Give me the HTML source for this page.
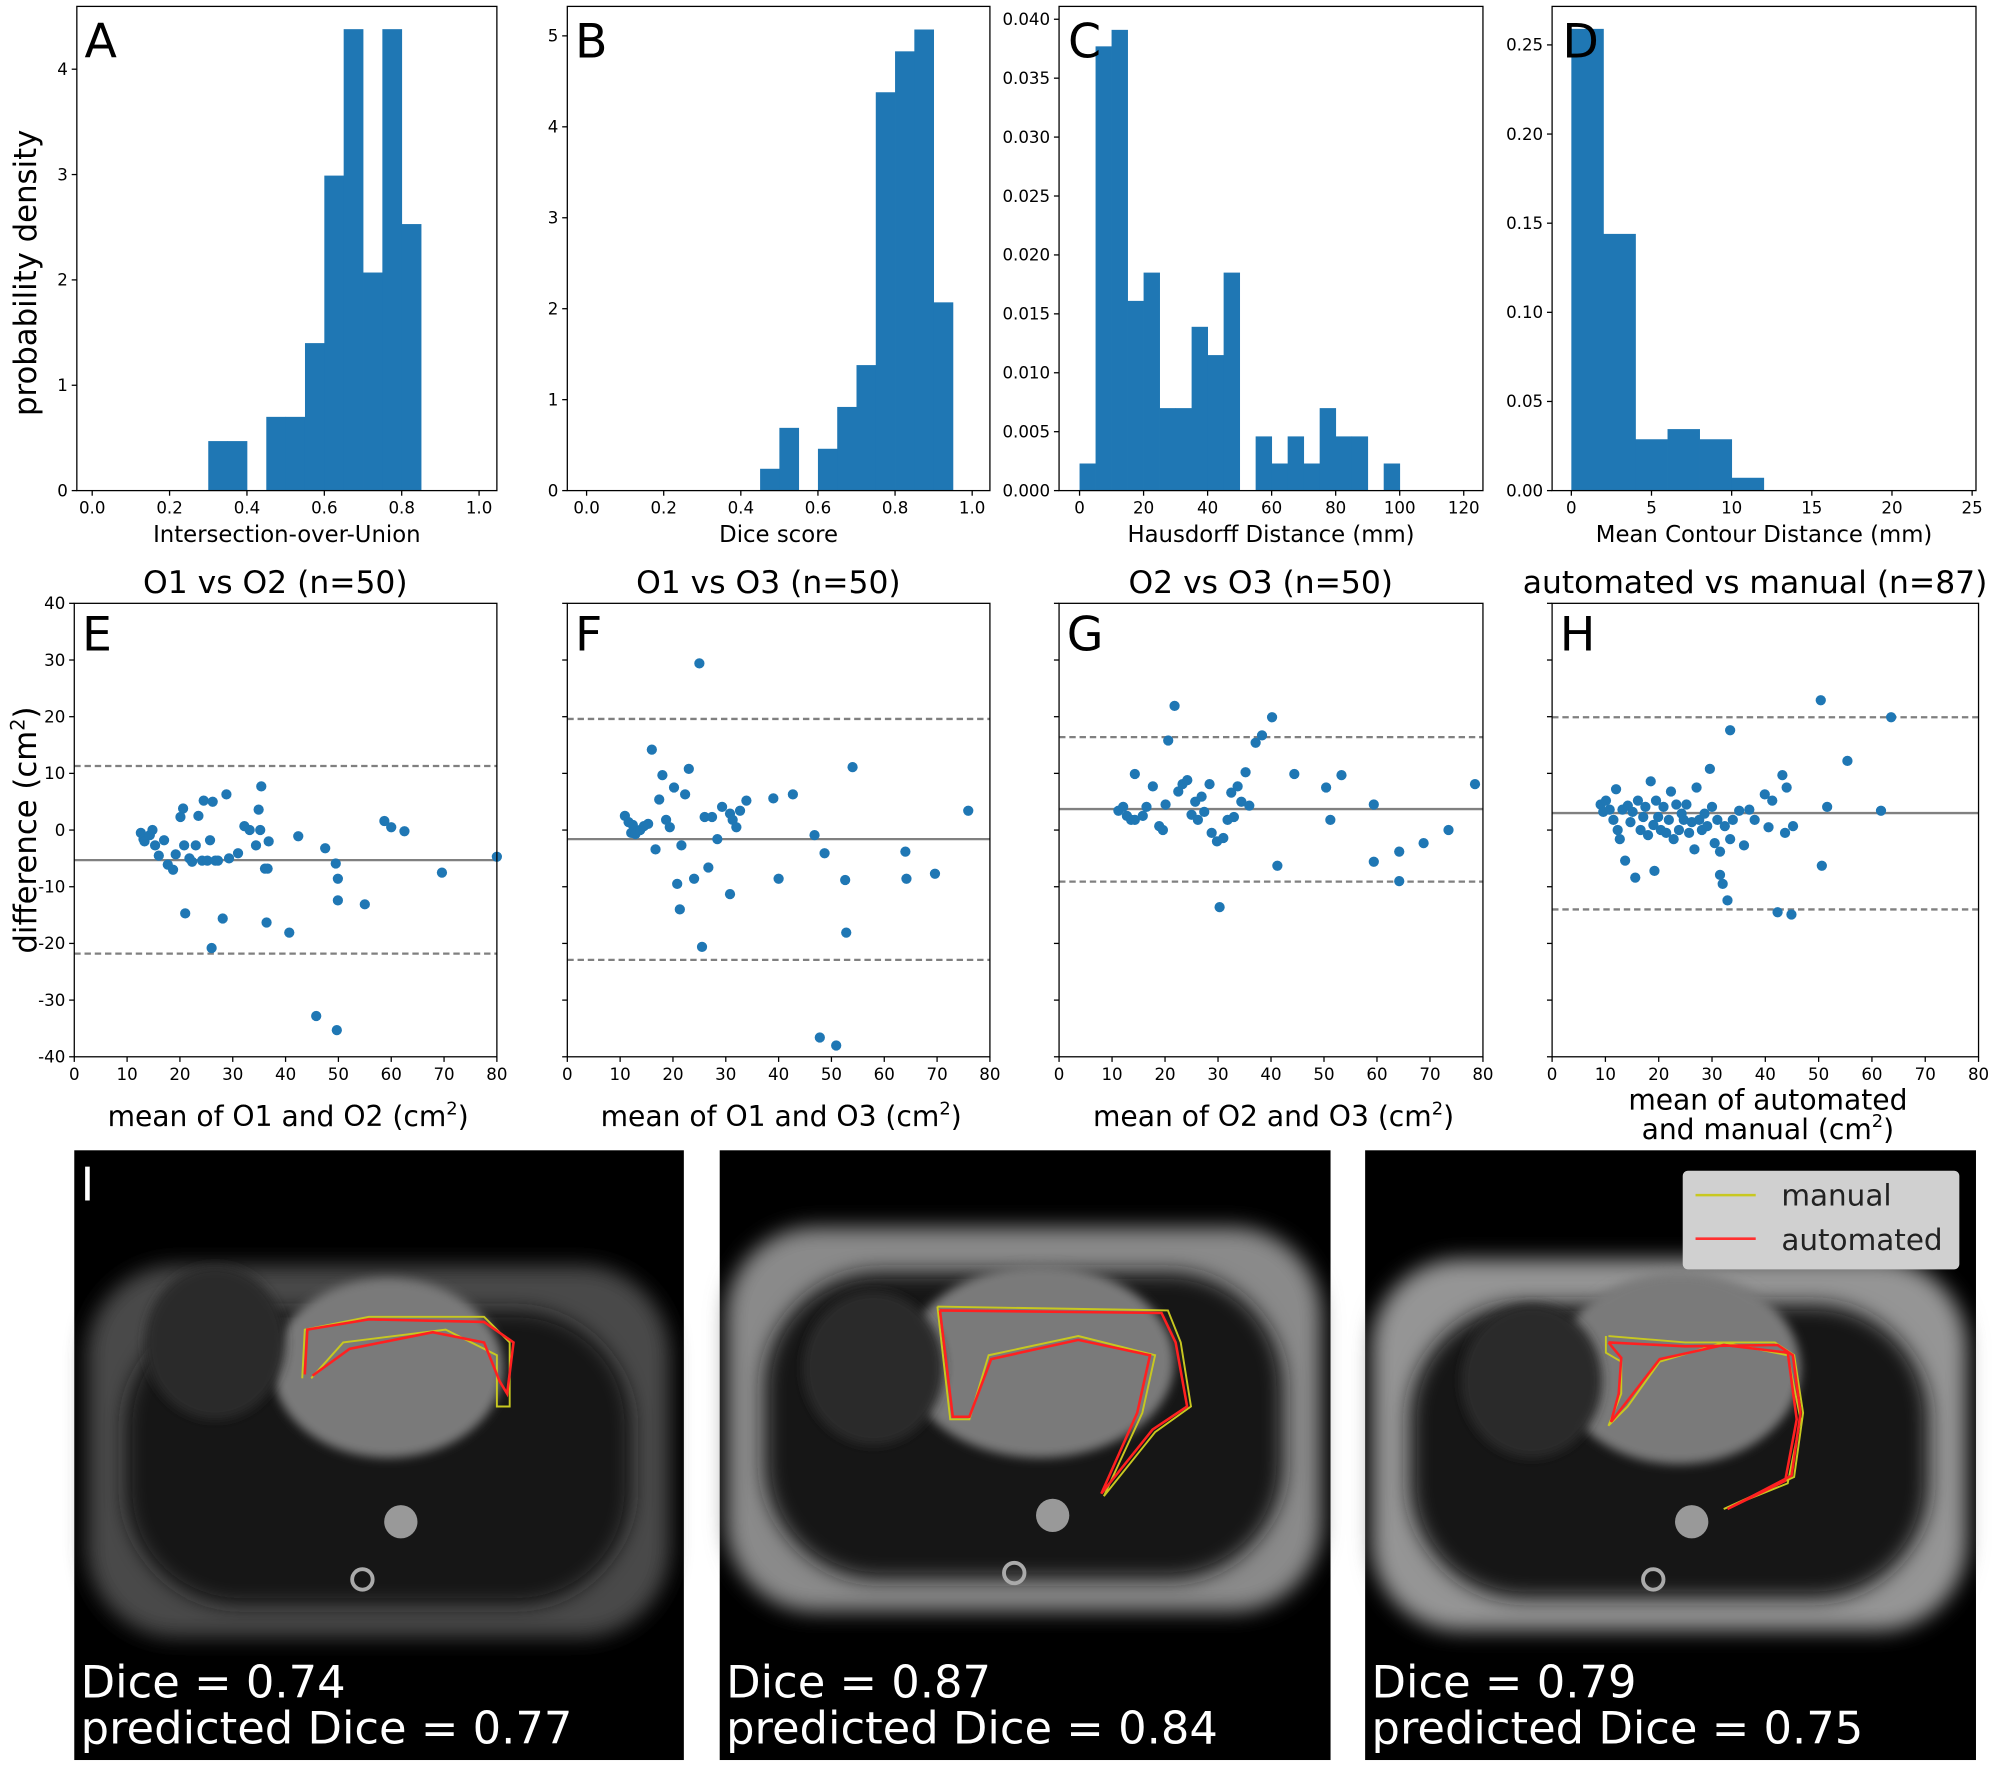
<!DOCTYPE html>
<html><head><meta charset="utf-8">
<style>
html,body{margin:0;padding:0;background:#fff;}
svg{display:block;}
text{font-family:"DejaVu Sans","Liberation Sans",sans-serif;}
</style></head>
<body>
<svg id="fig" xmlns="http://www.w3.org/2000/svg" width="2008" height="1769" viewBox="0 0 1568 1381" preserveAspectRatio="none">
<defs>
<filter id="blur4"><feGaussianBlur stdDeviation="4"/></filter>
<filter id="blur8"><feGaussianBlur stdDeviation="8"/></filter>
</defs>
<g id="charts"></g>
<g id="images"></g>
</svg>
<script>
// ---------- Histogram data ----------
const iouEdges = [0.30,0.35,0.40,0.45,0.50,0.55,0.60,0.65,0.70,0.75,0.80,0.85];
const iouDensity = [0.47,0.47,0,0.70,0.70,1.40,2.99,4.38,2.07,4.38,2.53];
const diceEdges = [0.45,0.50,0.55,0.60,0.65,0.70,0.75,0.80,0.85,0.90,0.95];
const diceDensity = [0.24,0.69,0,0.46,0.92,1.38,4.38,4.83,5.07,2.07];
const hdEdges = [0,5,10,15,20,25,30,35,40,45,50,55,60,65,70,75,80,85,90,95,100];
const hdDensity = [0.0023,0.0377,0.0391,0.0161,0.0185,0.0070,0.0070,0.0139,0.0115,0.0185,0,0.0046,0.0023,0.0046,0.0023,0.0070,0.0046,0.0046,0,0.0023];
const mcdEdges = [0,2,4,6,8,10,12];
const mcdDensity = [0.259,0.144,0.0288,0.0345,0.0288,0.0072];

// ---------- Bland-Altman data ----------
const eMeans = [12.6,13.1,13.3,14.3,14.8,15.3,16.0,17.0,17.7,18.7,19.2,20.1,20.6,20.8,21.0,21.8,22.3,23.0,23.5,24.2,24.5,25.2,25.7,26.0,26.2,26.7,27.2,28.1,28.8,29.3,31.0,32.2,33.2,34.4,34.9,35.2,35.4,36.1,36.4,36.6,36.8,40.7,42.4,45.8,47.5,49.5,49.9,49.9,49.7,55.0,58.7,60.0,62.5,69.6,80.0];
const eDiffs = [-0.5,-1.6,-2.0,-0.9,0,-2.7,-4.5,-1.8,-6.1,-7.0,-4.3,2.3,3.8,-2.7,-14.7,-5.0,-5.6,-2.7,2.5,-5.4,5.2,-5.4,-1.8,-20.8,5.0,-5.4,-5.4,-15.6,6.3,-5.0,-4.1,0.7,0,-2.7,3.6,0,7.7,-6.8,-16.3,-6.8,-2.0,-18.1,-1.1,-32.8,-3.2,-5.9,-8.6,-12.4,-35.3,-13.1,1.6,0.5,-0.2,-7.5,-4.7];
const eStats = [-5.3,11.3,-21.8];
const fMeans = [10.9,11.6,12.4,12.1,12.9,13.8,14.5,15.3,16.0,16.7,17.4,18.0,18.7,19.4,20.2,20.8,21.3,21.6,22.3,23.0,24.0,25.0,25.5,26.0,26.7,27.4,28.4,29.3,30.8,31.3,32.0,32.7,33.9,30.8,39.0,40.0,42.7,46.8,47.8,48.7,50.9,52.6,52.8,54.0,64.0,64.2,69.6,75.9];
const fDiffs = [2.5,1.4,0.9,-0.5,-0.7,0,0.7,1.1,14.2,-3.4,5.4,9.7,1.8,0.5,7.5,-9.5,-14.0,-2.7,6.3,10.8,-8.6,29.4,-20.6,2.3,-6.6,2.3,-1.6,4.1,2.9,1.8,0.5,3.4,5.2,-11.3,5.6,-8.6,6.3,-0.9,-36.6,-4.1,-38.0,-8.8,-18.1,11.1,-3.8,-8.6,-7.7,3.4];
const fStats = [-1.6,19.6,-22.9];
const gMeans = [11.2,12.1,12.8,13.6,14.3,14.3,15.8,16.5,17.7,18.9,19.6,20.1,20.6,21.8,22.5,23.3,24.2,25.0,25.7,26.2,26.9,27.4,28.4,28.8,29.8,30.3,31.0,31.8,32.5,33.0,33.7,34.4,35.2,35.9,37.1,38.3,40.2,41.2,44.4,50.4,51.2,53.3,59.4,59.4,64.2,64.2,68.8,73.5,78.5];
const gDiffs = [3.4,4.1,2.5,1.8,9.9,1.8,2.5,4.1,7.7,0.7,0,4.5,15.8,21.9,6.8,8.1,8.8,2.7,5.0,1.8,5.9,3.2,8.1,-0.5,-2.0,-13.6,-1.4,1.8,6.6,2.3,7.7,5.0,10.2,4.3,15.4,16.7,19.9,-6.3,9.9,7.5,1.8,9.7,4.5,-5.6,-3.8,-9.0,-2.3,0,8.1];
const gStats = [3.7,16.4,-9.1];
const hMeans = [9.1,9.6,10.1,10.8,11.5,12.0,12.3,12.7,13.2,13.7,14.2,14.7,15.1,15.6,16.1,16.6,17.1,17.5,18.0,18.5,19.0,19.2,19.5,19.9,20.4,20.9,21.4,21.9,22.3,22.8,23.3,23.8,24.3,24.7,25.2,25.7,26.2,26.7,27.1,27.6,28.1,28.6,29.1,29.6,30.0,30.5,31.0,31.5,31.5,32.0,32.4,32.9,33.4,33.4,33.9,35.1,36.0,37.0,38.0,39.9,40.6,41.3,42.3,43.2,43.7,44.0,44.9,45.2,50.4,50.6,51.6,55.4,61.7,63.6];
const hDiffs = [4.5,3.2,5.2,3.6,1.8,7.2,0,-1.6,3.6,-5.4,4.3,1.4,3.2,-8.4,5.2,0,2.3,4.1,-0.9,8.6,0.9,-7.2,5.2,2.3,0,4.1,-0.5,1.8,6.8,-1.6,4.5,0,2.9,1.8,4.5,-0.5,1.4,-3.4,7.5,1.8,0,2.9,0.7,10.8,4.1,-2.3,1.8,-3.8,-7.9,-9.5,0.7,-12.4,17.6,-1.6,1.8,3.4,-2.7,3.6,1.8,6.3,0.5,5.2,-14.5,9.7,-0.5,7.5,-14.9,0.7,22.9,-6.3,4.1,12.2,3.4,19.9];
const hStats = [3.0,19.9,-14.0];
const baTicksX = [0,10,20,30,40,50,60,70,80];
const baTicksY = [-40,-30,-20,-10,0,10,20,30,40];

const NS = "http://www.w3.org/2000/svg";
const root = document.getElementById('charts');
const BLUE = '#1f77b4';
function mk(tag, attrs, parent, txt){
  const e = document.createElementNS(NS, tag);
  for (const k in attrs) e.setAttribute(k, attrs[k]);
  if (txt !== undefined) e.textContent = txt;
  (parent || root).appendChild(e);
  return e;
}
function scale(d0,d1,r0,r1){ return v => r0 + (v-d0)/(d1-d0)*(r1-r0); }

function axesFrame(g, L,R,T,B){
  const f = mk('rect',{x:L,y:T,width:R-L,height:B-T,fill:'none',stroke:'#000','stroke-width':1},g);
  
  
}
function xTicks(g, sx, B, ticks, fmt){
  ticks.forEach(t=>{
    const x = sx(t);
    const l = mk('line',{x1:x,x2:x,y1:B,y2:B+4,stroke:'#000','stroke-width':1},g);
    
    
    const tx = mk('text',{x:x,y:B+18,'font-size':13,'text-anchor':'middle',fill:'#000'},g,fmt(t));
    
    
  });
}
function yTicks(g, sy, L, ticks, fmt, showLabels){
  ticks.forEach(t=>{
    const y = sy(t);
    const l = mk('line',{x1:L-4,x2:L,y1:y,y2:y,stroke:'#000','stroke-width':1},g);
    
    
    if (showLabels){
      const tx = mk('text',{x:L-7,y:y+4.5,'font-size':13,'text-anchor':'end',fill:'#000'},g,fmt(t));
      
      
    }
  });
}
function letter(g, x, y, s){
  const t = mk('text',{x:x,y:y,'font-size':37,fill:'#000'},g,s);
  
  
}
function rng(a,b,s){ const r=[]; for(let v=a; v<=b+1e-9; v+=s) r.push(+v.toFixed(6)); return r; }

function hist(name, L,R,T,B, xd, yd, edges, dens, xt, xf, yt, yf, xlabel, let, lx){
  const g = mk('g',{});
  
  
  const sx = scale(xd[0],xd[1],L,R), sy = scale(yd[0],yd[1],B,T);
  dens.forEach((d,i)=>{
    if (d<=0) return;
    const x0 = sx(edges[i]), x1 = sx(edges[i+1]);
    const r = mk('rect',{x:x0,y:sy(d),width:x1-x0+0.3,height:sy(0)-sy(d),fill:BLUE},g);
    
    
  });
  axesFrame(g,L,R,T,B);
  xTicks(g,sx,B,xt,xf);
  yTicks(g,sy,L,yt,yf,true);
  const xl = mk('text',{x:(L+R)/2,y:423,'font-size':17.8,'text-anchor':'middle',fill:'#000'},g,xlabel);
  
  
  letter(g, lx, 45, let);
}

hist('histogram-iou',60,388,5,383,[-0.0397,1.046],[0,4.596],iouEdges,iouDensity,rng(0,1,0.2),v=>v.toFixed(1),[0,1,2,3,4],v=>String(v),'Intersection-over-Union','A',66);
hist('histogram-dice',443,773,5,383,[-0.05,1.046],[0,5.324],diceEdges,diceDensity,rng(0,1,0.2),v=>v.toFixed(1),[0,1,2,3,4,5],v=>String(v),'Dice score','B',449);
hist('histogram-hausdorff',827,1158,5,383,[-6.4,126],[0,0.04109],hdEdges,hdDensity,rng(0,120,20),v=>String(v),rng(0,0.04,0.005),v=>v.toFixed(3),'Hausdorff Distance (mm)','C',834);
hist('histogram-mcd',1212,1543,5,383,[-1.2,25.24],[0,0.2716],mcdEdges,mcdDensity,rng(0,25,5),v=>String(v),rng(0,0.25,0.05),v=>v.toFixed(2),'Mean Contour Distance (mm)','D',1220);

const yl = mk('text',{x:0,y:0,'font-size':24,'text-anchor':'middle',fill:'#000',transform:'translate(28,213) rotate(-90)'},root,'probability density');



function ba(name, L,R, means, diffs, stats, title, xlabelParts, let, showY){
  const T=471,B=825;
  const g = mk('g',{});
  
  
  const sx = scale(0,80,L,R), sy = scale(-40,40,B,T);
  const m = mk('line',{x1:L,x2:R,y1:sy(stats[0]),y2:sy(stats[0]),stroke:'#808080','stroke-width':1.8},g);
  
  
  [stats[1],stats[2]].forEach(v=>{
    const d = mk('line',{x1:L,x2:R,y1:sy(v),y2:sy(v),stroke:'#808080','stroke-width':1.8,'stroke-dasharray':'5,3'},g);
    
    
  });
  means.forEach((mv,i)=>{
    const c = mk('circle',{cx:sx(mv),cy:sy(diffs[i]),r:4,fill:BLUE},g);
    
    
  });
  axesFrame(g,L,R,T,B);
  xTicks(g,sx,B,baTicksX,v=>String(v));
  yTicks(g,sy,L,baTicksY,v=>String(v),showY);
  const tt = mk('text',{x:(L+R)/2-8,y:463,'font-size':24.5,'text-anchor':'middle',fill:'#000'},g,title);
  
  
  xlabelParts.forEach((ln,i)=>{
    const t = mk('text',{x:(L+R)/2+2,y:ln.y,'font-size':22,'text-anchor':'middle',fill:'#000'},g);
    
    
    mk('tspan',{},t,ln.a);
    if (ln.sup){
      mk('tspan',{'font-size':14,dy:-9},t,'2');
      mk('tspan',{dy:9},t,')');
    }
  });
  letter(g, L+6, 508, let);
}
ba('bland-altman-o1-o2',58,388,eMeans,eDiffs,eStats,'O1 vs O2 (n=50)',[{y:879,a:'mean of O1 and O2 (cm',sup:true}],'E',true);
ba('bland-altman-o1-o3',443,773,fMeans,fDiffs,fStats,'O1 vs O3 (n=50)',[{y:879,a:'mean of O1 and O3 (cm',sup:true}],'F',false);
ba('bland-altman-o2-o3',827,1158,gMeans,gDiffs,gStats,'O2 vs O3 (n=50)',[{y:879,a:'mean of O2 and O3 (cm',sup:true}],'G',false);
ba('bland-altman-auto-manual',1212,1545,hMeans,hDiffs,hStats,'automated vs manual (n=87)',[{y:866,a:'mean of automated'},{y:889,a:'and manual (cm',sup:true}],'H',false);

const yl2 = mk('text',{x:0,y:0,'font-size':24,'text-anchor':'middle',fill:'#000',transform:'translate(28,648) rotate(-90)'},root);


mk('tspan',{},yl2,'difference (cm');
mk('tspan',{'font-size':15,dy:-9},yl2,'2');
mk('tspan',{dy:9},yl2,')');

// ---------- MRI panels ----------
const img = document.getElementById('images');
function mri(name, X, W, body, heart, manual, auto, dice, pred){
  const g = mk('g',{},img);
  
  
  const Y=898,H=476;
  mk('rect',{x:X,y:Y,width:W,height:H,fill:'#000'},g);
  const cg = mk('g',{},g);
  mk('rect',{x:X+body.x,y:Y+body.y,width:body.w,height:body.h,rx:70,fill:body.c,filter:'url(#blur8)'},cg);
  mk('rect',{x:X+body.x+30,y:Y+body.y+35,width:body.w-60,height:body.h-60,rx:90,fill:'#161616',filter:'url(#blur8)'},cg);
  mk('ellipse',{cx:X+heart.cx,cy:Y+heart.cy,rx:heart.rx,ry:heart.ry,fill:'#7a7a7a',filter:'url(#blur4)'},cg);
  mk('ellipse',{cx:X+heart.lx,cy:Y+heart.ly,rx:55,ry:60,fill:'#2a2a2a',filter:'url(#blur4)'},cg);
  mk('circle',{cx:X+heart.cx+10,cy:Y+heart.cy+120,r:13,fill:'#999'},cg);
  mk('circle',{cx:X+heart.cx-20,cy:Y+heart.cy+165,r:8,fill:'none',stroke:'#aaa','stroke-width':3},cg);
  const pm = mk('polyline',{points:manual.map(p=>(X+p[0])+','+(Y+p[1])).join(' '),fill:'none',stroke:'#c8c820','stroke-width':1.5},g);
  
  
  const pa = mk('polyline',{points:auto.map(p=>(X+p[0])+','+(Y+p[1])).join(' '),fill:'none',stroke:'#ff2020','stroke-width':2},g);
  
  
  const t1 = mk('text',{x:X+5,y:Y+427,'font-size':35,fill:'#fff'},g,'Dice = '+dice);
  
  
  const t2 = mk('text',{x:X+5,y:Y+463,'font-size':35,fill:'#fff'},g,'predicted Dice = '+pred);
  
  
}
mri('mri-example-1',58,476,{x:10,y:90,w:455,h:290,c:'#4a4a4a'},{cx:245,cy:170,rx:90,ry:70,lx:110,ly:150},
  [[178,178],[180,140],[230,130],[320,130],[340,150],[340,200],[330,200],[330,160],[290,140],[210,150],[185,178]],
  [[180,175],[182,140],[230,132],[320,134],[343,150],[338,190],[332,180],[320,150],[280,142],[215,155],[186,176]],
  '0.74','0.77');
const tI = mk('text',{x:63,y:937,'font-size':36,fill:'#fff'},img,'I');


mri('mri-example-2',562,477,{x:5,y:60,w:465,h:300,c:'#8a8a8a'},{cx:250,cy:165,rx:105,ry:75,lx:120,ly:170},
  [[170,122],[350,125],[360,150],[368,200],[340,220],[300,270],[330,205],[340,160],[280,145],[210,160],[195,210],[180,210],[170,122]],
  [[172,125],[345,127],[356,150],[365,200],[338,218],[298,268],[326,205],[336,160],[280,148],[212,163],[195,208],[182,208],[172,125]],
  '0.87','0.84');
mri('mri-example-3',1066,477,{x:5,y:85,w:465,h:290,c:'#959595'},{cx:245,cy:170,rx:95,ry:75,lx:130,ly:180},
  [[188,145],[188,158],[200,165],[200,190],[190,215],[205,200],[230,165],[280,150],[330,160],[340,210],[330,260],[280,280],[335,255],[342,205],[335,160],[320,150],[250,150],[190,145]],
  [[190,150],[200,162],[198,190],[192,212],[203,198],[230,163],[280,152],[330,158],[337,210],[328,258],[283,280],[333,254],[340,205],[334,160],[322,152],[250,153],[190,150]],
  '0.79','0.75');
// legend
const lg = mk('g',{},img);


mk('rect',{x:1314,y:914,width:216,height:77,rx:4,fill:'#d0d0d0'},lg);
mk('line',{x1:1324,x2:1371,y1:933,y2:933,stroke:'#c8c820','stroke-width':2},lg);
mk('line',{x1:1324,x2:1371,y1:967,y2:967,stroke:'#ff3030','stroke-width':2},lg);
const lm = mk('text',{x:1391,y:941,'font-size':23,fill:'#222'},lg,'manual');


const la = mk('text',{x:1391,y:976,'font-size':23,fill:'#222'},lg,'automated');


</script>
</body></html>
